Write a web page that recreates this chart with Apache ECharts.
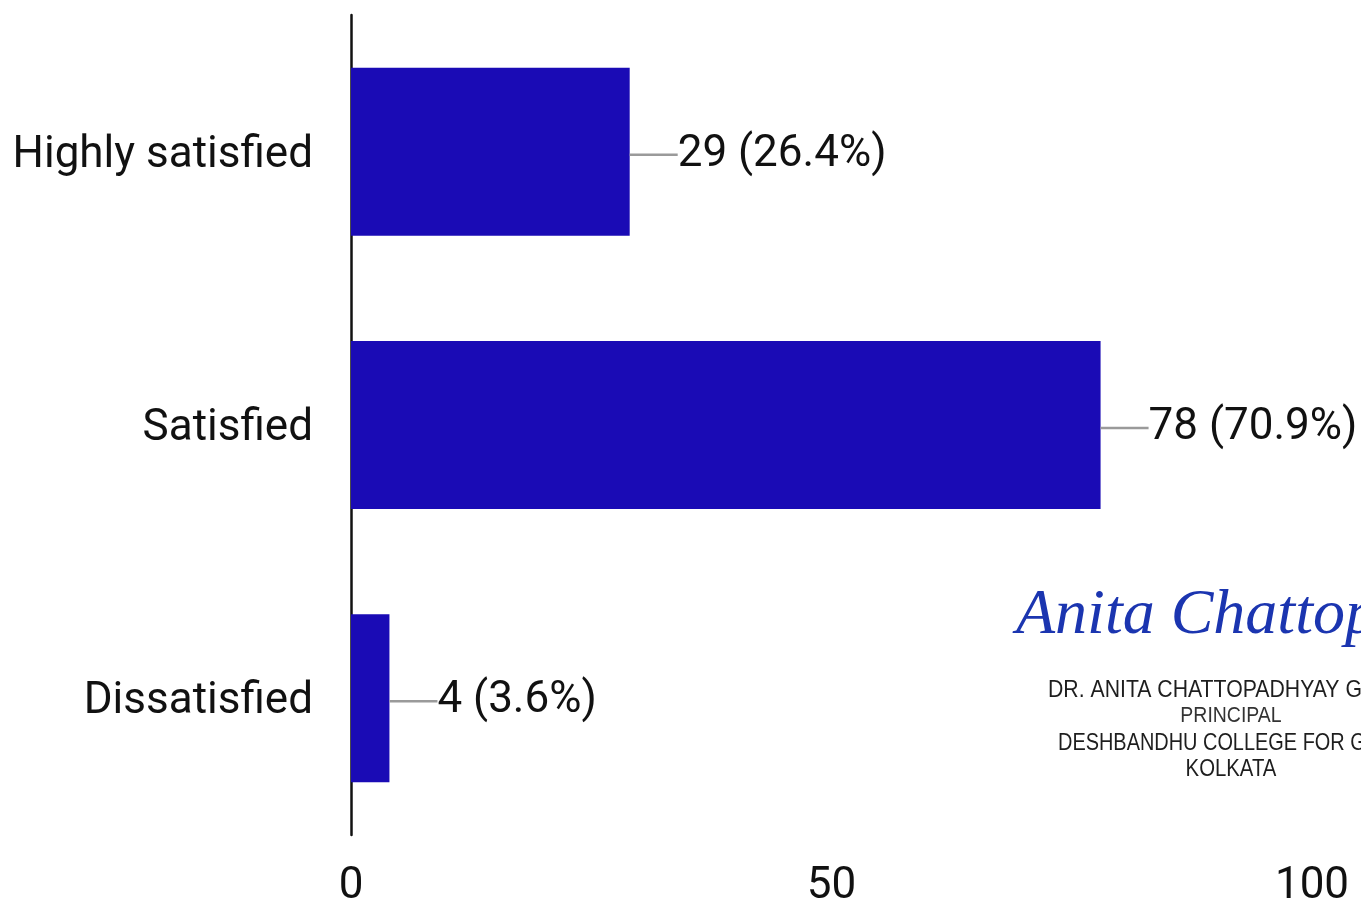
<!DOCTYPE html>
<html>
<head>
<meta charset="utf-8">
<script src="https://cdn.jsdelivr.net/npm/echarts@6/dist/echarts.min.js"></script>
<style>
html,body{margin:0;padding:0;background:#fff;}
#chart{width:1361px;height:904px;}
</style>
</head>
<body>
<div id="chart"></div>
<script>
const categories = ['Highly satisfied', 'Satisfied', 'Dissatisfied'];
const counts = [29, 78, 4];
const percents = ['26.4%', '70.9%', '3.6%'];
const xTicks = [0, 50, 100];

const signature = 'Anita Chattopadhyay';
const stampLines = ['DR. ANITA CHATTOPADHYAY G', 'PRINCIPAL', 'DESHBANDHU COLLEGE FOR G', 'KOLKATA'];

const chart = echarts.init(document.getElementById('chart'));
const FONT = 'Roboto';

chart.setOption({
  backgroundColor: '#ffffff',
  animation: false,
  grid: { left: 351, right: 49, top: 15, bottom: 69, containLabel: false, outerBoundsMode: 'none' },
  xAxis: {
    type: 'value',
    min: xTicks[0],
    max: xTicks[xTicks.length - 1],
    interval: 50,
    axisLine: { show: false },
    axisTick: { show: false },
    splitLine: { show: false },
    axisLabel: { color: '#111', fontFamily: FONT, fontSize: 44, margin: 30 }
  },
  yAxis: {
    type: 'category',
    inverse: true,
    data: categories,
    axisLine: { show: true, lineStyle: { color: '#111', width: 2.5 } },
    axisTick: { show: false },
    axisLabel: {
      color: '#111', fontFamily: FONT, fontSize: 44, margin: 38,
      formatter: v => '{a|' + v + '}',
      rich: { a: { color: '#111', fontFamily: FONT, fontSize: 44, padding: [8, 0, 0, 0] } }
    }
  },
  series: [{
    type: 'bar',
    data: counts,
    barWidth: 168,
    itemStyle: { color: '#1A0BB5' },
    label: {
      show: true,
      position: 'right',
      distance: 0,
      offset: [0, 3],
      formatter: p => '{ln|}{t|' + counts[p.dataIndex] + ' (' + percents[p.dataIndex] + ')}',
      rich: {
        ln: { width: 48, height: 2.5, backgroundColor: '#9a9a9a' },
        t: { color: '#111', fontFamily: FONT, fontSize: 44 }
      }
    }
  }],
  graphic: [
    {
      type: 'text', left: 1016, top: 584, silent: true,
      style: { text: signature, fill: '#1b35b0', font: 'italic 64px "Liberation Serif"' }
    },
    {
      type: 'text', x: 1048, y: 690, scaleX: 0.885, silent: true,
      style: { text: stampLines[0], fill: '#1e1e1e', font: '24px "Liberation Sans"', textVerticalAlign: 'middle' }
    },
    {
      type: 'text', x: 1231, y: 716, scaleX: 0.885, silent: true,
      style: { text: stampLines[1], fill: '#333', font: '22px "Liberation Sans"', textAlign: 'center', textVerticalAlign: 'middle' }
    },
    {
      type: 'text', x: 1058, y: 743, scaleX: 0.83, silent: true,
      style: { text: stampLines[2], fill: '#1e1e1e', font: '24px "Liberation Sans"', textVerticalAlign: 'middle' }
    },
    {
      type: 'text', x: 1231, y: 770, scaleX: 0.885, silent: true,
      style: { text: stampLines[3], fill: '#1e1e1e', font: '23px "Liberation Sans"', textAlign: 'center', textVerticalAlign: 'middle' }
    }
  ]
});
</script>
</body>
</html>
